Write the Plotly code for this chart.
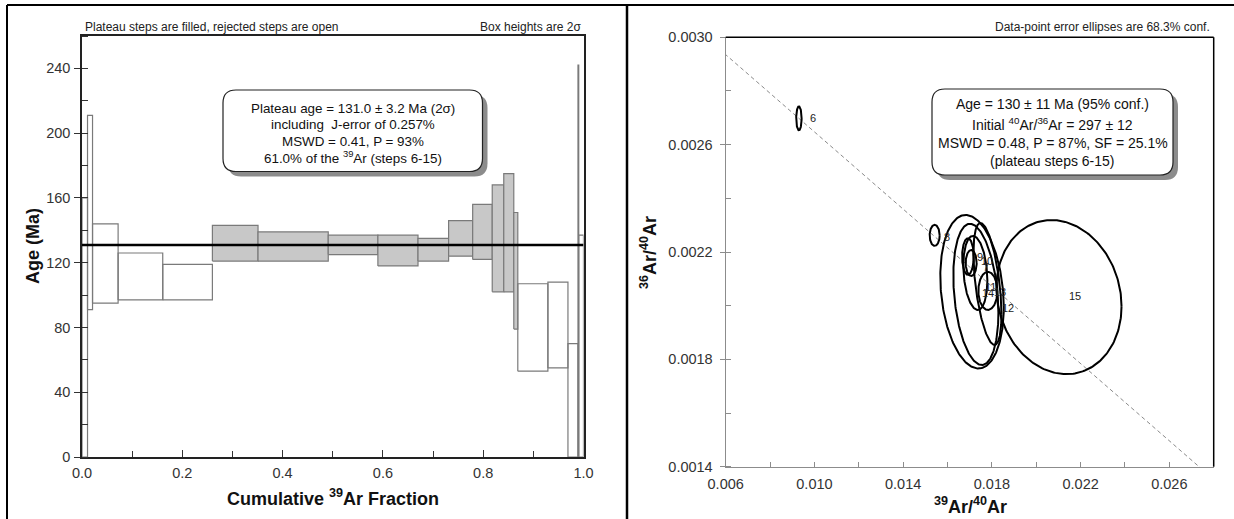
import numpy as np
import plotly.graph_objects as go

W, H = 1234, 519
FONT = "Arial, Liberation Sans, sans-serif"

# ---------------- Left panel: 40Ar/39Ar age spectrum ----------------
cum_fraction = [0.000, 0.011, 0.021, 0.072, 0.161, 0.260, 0.351, 0.491, 0.590, 0.670,
                0.731, 0.779, 0.818, 0.841, 0.861, 0.869, 0.929, 0.969, 0.989, 0.9905, 1.000]
age_low = [0, 91, 95, 97, 97, 121, 121, 125, 118, 121, 124, 122, 102, 102, 79, 53, 55, 0, 0, 0]
age_high = [160, 211, 144, 126, 119, 143, 139, 137, 137, 135, 146, 156, 168, 175, 151, 107, 108, 70, 242, 137]
plateau_steps = list(range(6, 16))
plateau_age = 131.0
spectrum_x_ticks = [0.0, 0.2, 0.4, 0.6, 0.8, 1.0]
spectrum_y_ticks = [0, 40, 80, 120, 160, 200, 240]

# ---------------- Right panel: inverse isochron ----------------
step_ids = [6, 7, 8, 9, 10, 11, 12, 13, 14, 15]
ar39_ar40 = [0.00930, 0.017066, 0.01542, 0.01692, 0.017255, 0.01782, 0.01780, 0.017278, 0.017106, 0.021025]
ar36_ar40 = [0.002698, 0.002159, 0.002262, 0.002183, 0.002122, 0.002055, 0.002081, 0.002042, 0.002052, 0.002032]
sigma_x = [0.000122, 0.000248, 0.000226, 0.000262, 0.000542, 0.000429, 0.000632, 0.001016, 0.001431, 0.00282]
sigma_y = [0.0000447, 0.0000484, 0.0000391, 0.0000682, 0.000138, 0.0000708, 0.000227, 0.000263, 0.000286, 0.000287]
err_corr = [0.0, 0.0, 0.0, 0.0, -0.2, 0.0, -0.5, -0.26, -0.2, -0.12]
initial_40_36 = 297.0
isochron_x_intercept = 0.0468
iso_x_ticks = [0.006, 0.010, 0.014, 0.018, 0.022, 0.026]
iso_y_ticks = [0.0014, 0.0018, 0.0022, 0.0026, 0.0030]

# label offsets (pixels, styling only)
label_dx = [14, 15, 12, 12.5, 12, 2.5, 21, 24.5, 16, 16.5]
label_dy = [0, -4, -1.5, -0.6, 12, 4, -24, 2, -1, 1]


def px(x):
    return x / W


def py(y):
    return 1 - y / H


fig = go.Figure()

# ----- age spectrum boxes -----
for i in range(len(age_low)):
    step = i + 1
    l, r = cum_fraction[i], cum_fraction[i + 1]
    lo, hi = age_low[i], age_high[i]
    filled = step in plateau_steps
    fig.add_trace(go.Scatter(
        x=[l, r, r, l, l], y=[lo, lo, hi, hi, lo],
        mode="lines", xaxis="x", yaxis="y",
        fill="toself" if filled else "none",
        fillcolor="#c8c8c8",
        line=dict(color="#7a7a7a", width=1.2),
        hoverinfo="skip", showlegend=False))

fig.add_trace(go.Scatter(
    x=[cum_fraction[0], cum_fraction[-1]], y=[plateau_age, plateau_age],
    mode="lines", xaxis="x", yaxis="y",
    line=dict(color="#000000", width=2.5), showlegend=False, hoverinfo="skip"))

# ----- isochron line -----
iso_y0 = 1.0 / initial_40_36
line_x = np.array([0.0, isochron_x_intercept])
line_y = iso_y0 * (1 - line_x / isochron_x_intercept)
fig.add_trace(go.Scatter(
    x=line_x, y=line_y, mode="lines", xaxis="x2", yaxis="y2",
    line=dict(color="#8a8a8a", width=1, dash="4px,3px"),
    showlegend=False, hoverinfo="skip"))

# ----- error ellipses -----
t = np.linspace(0, 2 * np.pi, 240)
for k in range(len(step_ids)):
    cx, cy = ar39_ar40[k], ar36_ar40[k]
    sx, sy, rh = sigma_x[k], sigma_y[k], err_corr[k]
    ex = cx + sx * np.cos(t)
    ey = cy + sy * (rh * np.cos(t) + np.sqrt(1 - rh ** 2) * np.sin(t))
    fig.add_trace(go.Scatter(
        x=ex, y=ey, mode="lines", xaxis="x2", yaxis="y2",
        line=dict(color="#000000", width=2),
        showlegend=False, hoverinfo="skip"))

annotations = []
for k in range(len(step_ids)):
    annotations.append(dict(
        x=ar39_ar40[k], y=ar36_ar40[k], xref="x2", yref="y2",
        text=str(step_ids[k]), showarrow=False,
        xshift=label_dx[k], yshift=label_dy[k],
        font=dict(family=FONT, size=11, color="#222222")))

# ----- header texts -----
annotations += [
    dict(x=px(83), y=py(27), xref="paper", yref="paper", xanchor="left", yanchor="middle",
         text="Plateau steps are filled, rejected steps are open", showarrow=False,
         font=dict(family=FONT, size=12, color="#222")),
    dict(x=px(583), y=py(27), xref="paper", yref="paper", xanchor="right", yanchor="middle",
         text="Box heights are 2σ", showarrow=False,
         font=dict(family=FONT, size=12, color="#222")),
    dict(x=px(1212), y=py(27), xref="paper", yref="paper", xanchor="right", yanchor="middle",
         text="Data-point error ellipses are 68.3% conf.", showarrow=False,
         font=dict(family=FONT, size=12, color="#222")),
]

# ----- axis titles -----
annotations += [
    dict(x=px(333), y=py(497), xref="paper", yref="paper", xanchor="center", yanchor="middle",
         text="<b>Cumulative <sup>39</sup>Ar Fraction</b>", showarrow=False,
         font=dict(family=FONT, size=18, color="#111")),
    dict(x=px(33), y=py(246), xref="paper", yref="paper", xanchor="center", yanchor="middle",
         text="<b>Age (Ma)</b>", textangle=-90, showarrow=False,
         font=dict(family=FONT, size=18, color="#111")),
    dict(x=px(970), y=py(505), xref="paper", yref="paper", xanchor="center", yanchor="middle",
         text="<b><sup>39</sup>Ar/<sup>40</sup>Ar</b>", showarrow=False,
         font=dict(family=FONT, size=18, color="#111")),
    dict(x=px(648), y=py(252), xref="paper", yref="paper", xanchor="center", yanchor="middle",
         text="<b><sup>36</sup>Ar/<sup>40</sup>Ar</b>", textangle=-90, showarrow=False,
         font=dict(family=FONT, size=18, color="#111")),
]

# ----- info boxes -----
left_lines = ["Plateau age = 131.0 ± 3.2 Ma (2σ)",
              "including\u00a0 J-error of 0.257%",
              "MSWD = 0.41, P = 93%",
              "61.0% of the <sup>39</sup>Ar (steps 6-15)"]
left_line_y = [108, 124.5, 141, 157]
for s, yy in zip(left_lines, left_line_y):
    annotations.append(dict(x=px(353), y=py(yy), xref="paper", yref="paper",
                            xanchor="center", yanchor="middle", text=s, showarrow=False,
                            font=dict(family=FONT, size=13.4, color="#111")))

right_lines = ["Age = 130 ± 11 Ma (95% conf.)",
               "Initial <sup>40</sup>Ar/<sup>36</sup>Ar = 297 ± 12",
               "MSWD = 0.48, P = 87%, SF = 25.1%",
               "(plateau steps 6-15)"]
right_line_y = [104, 123.5, 143, 161]
for s, yy in zip(right_lines, right_line_y):
    annotations.append(dict(x=px(1052.5), y=py(yy), xref="paper", yref="paper",
                            xanchor="center", yanchor="middle", text=s, showarrow=False,
                            font=dict(family=FONT, size=14, color="#111")))


def rounded_path(x0, y0, x1, y1, r):
    pts = [
        ("M", [(x0 + r, y0)]),
        ("L", [(x1 - r, y0)]),
        ("Q", [(x1, y0), (x1, y0 + r)]),
        ("L", [(x1, y1 - r)]),
        ("Q", [(x1, y1), (x1 - r, y1)]),
        ("L", [(x0 + r, y1)]),
        ("Q", [(x0, y1), (x0, y1 - r)]),
        ("L", [(x0, y0 + r)]),
        ("Q", [(x0, y0), (x0 + r, y0)]),
    ]
    out = []
    for cmd, pp in pts:
        out.append(cmd + " " + " ".join(f"{px(a):.6f},{py(b):.6f}" for a, b in pp))
    return " ".join(out) + " Z"


shapes = []
for (x0, y0, x1, y1) in [(223, 90, 482.5, 171.5), (932, 89, 1173, 175)]:
    shapes.append(dict(type="path", xref="paper", yref="paper",
                       path=rounded_path(x0 + 5, y0 + 5, x1 + 5, y1 + 5, 13),
                       fillcolor="#8c8c8c", line=dict(width=0), layer="above"))
    shapes.append(dict(type="path", xref="paper", yref="paper",
                       path=rounded_path(x0, y0, x1, y1, 13),
                       fillcolor="#ffffff", line=dict(color="#222", width=1.2), layer="above"))

# panel frames
shapes += [
    dict(type="line", xref="paper", yref="paper", x0=px(7), x1=1, y0=py(5), y1=py(5),
         line=dict(color="#000", width=2)),
    dict(type="line", xref="paper", yref="paper", x0=px(7), x1=px(7), y0=py(5), y1=0,
         line=dict(color="#000", width=2)),
    dict(type="line", xref="paper", yref="paper", x0=px(627), x1=px(627), y0=py(5), y1=0,
         line=dict(color="#000", width=2.5)),
    # top/right frame of isochron plot
    dict(type="line", xref="paper", yref="paper", x0=px(725.7), x1=px(1213.7), y0=py(37.3), y1=py(37.3),
         line=dict(color="#000", width=1.5)),
    dict(type="line", xref="paper", yref="paper", x0=px(1213.7), x1=px(1213.7), y0=py(37.3), y1=py(466.7),
         line=dict(color="#000", width=1.5)),
]

tickfont = dict(family=FONT, size=14.5, color="#333")

fig.update_layout(
    width=W, height=H, autosize=False,
    margin=dict(l=0, r=0, t=0, b=0, pad=0),
    paper_bgcolor="white", plot_bgcolor="white",
    showlegend=False,
    annotations=annotations, shapes=shapes,
    xaxis=dict(domain=[px(82), px(583.5)], range=[0, 1.0], anchor="y", automargin=False,
               tickmode="array", tickvals=spectrum_x_ticks,
               ticktext=[f"{v:.1f}" for v in spectrum_x_ticks],
               ticks="inside", ticklen=7, tickcolor="#333", tickwidth=1,
               showline=True, linecolor="#222", linewidth=1.5, mirror=True,
               showgrid=False, zeroline=False, tickfont=tickfont, ticklabelstandoff=2,
               minor=dict(tickmode="linear", tick0=0, dtick=0.1, ticks="inside", ticklen=6,
                          tickcolor="#333", showgrid=False)),
    yaxis=dict(domain=[py(457), py(36)], range=[0, 260], anchor="x", automargin=False,
               tickmode="array", tickvals=spectrum_y_ticks,
               ticks="outside", ticklen=6, tickcolor="#333", tickwidth=1,
               showline=True, linecolor="#222", linewidth=1.5, mirror=True,
               showgrid=False, zeroline=False, tickfont=tickfont, ticklabelstandoff=1,
               minor=dict(tickmode="linear", tick0=0, dtick=20, ticks="inside", ticklen=6,
                          tickcolor="#333", showgrid=False)),
    xaxis2=dict(domain=[px(725.7), px(1213.7)], range=[0.006, 0.028], anchor="y2", automargin=False,
                tickmode="array", tickvals=iso_x_ticks,
                ticktext=[f"{v:.3f}" for v in iso_x_ticks],
                ticks="inside", ticklen=5, tickcolor="#8c8c8c", tickwidth=1,
                showline=True, linecolor="#8c8c8c", linewidth=1.2,
                showgrid=False, zeroline=False, tickfont=tickfont, ticklabelstandoff=4,
                minor=dict(tickmode="linear", tick0=0.006, dtick=0.002, ticks="inside", ticklen=5,
                           tickcolor="#8c8c8c", showgrid=False)),
    yaxis2=dict(domain=[py(466.7), py(37.3)], range=[0.0014, 0.0030], anchor="x2", automargin=False,
                tickmode="array", tickvals=iso_y_ticks,
                ticktext=[f"{v:.4f}" for v in iso_y_ticks],
                ticks="outside", ticklen=5, tickcolor="#8c8c8c", tickwidth=1,
                showline=True, linecolor="#8c8c8c", linewidth=1.2,
                showgrid=False, zeroline=False, tickfont=tickfont, ticklabelstandoff=4,
                minor=dict(tickmode="linear", tick0=0.0014, dtick=0.0002, ticks="inside", ticklen=5,
                           tickcolor="#8c8c8c", showgrid=False)),
)

fig.write_html("out.html", config={"displayModeBar": False},
               post_script="document.body.style.margin='0';document.body.style.overflow='hidden';")
